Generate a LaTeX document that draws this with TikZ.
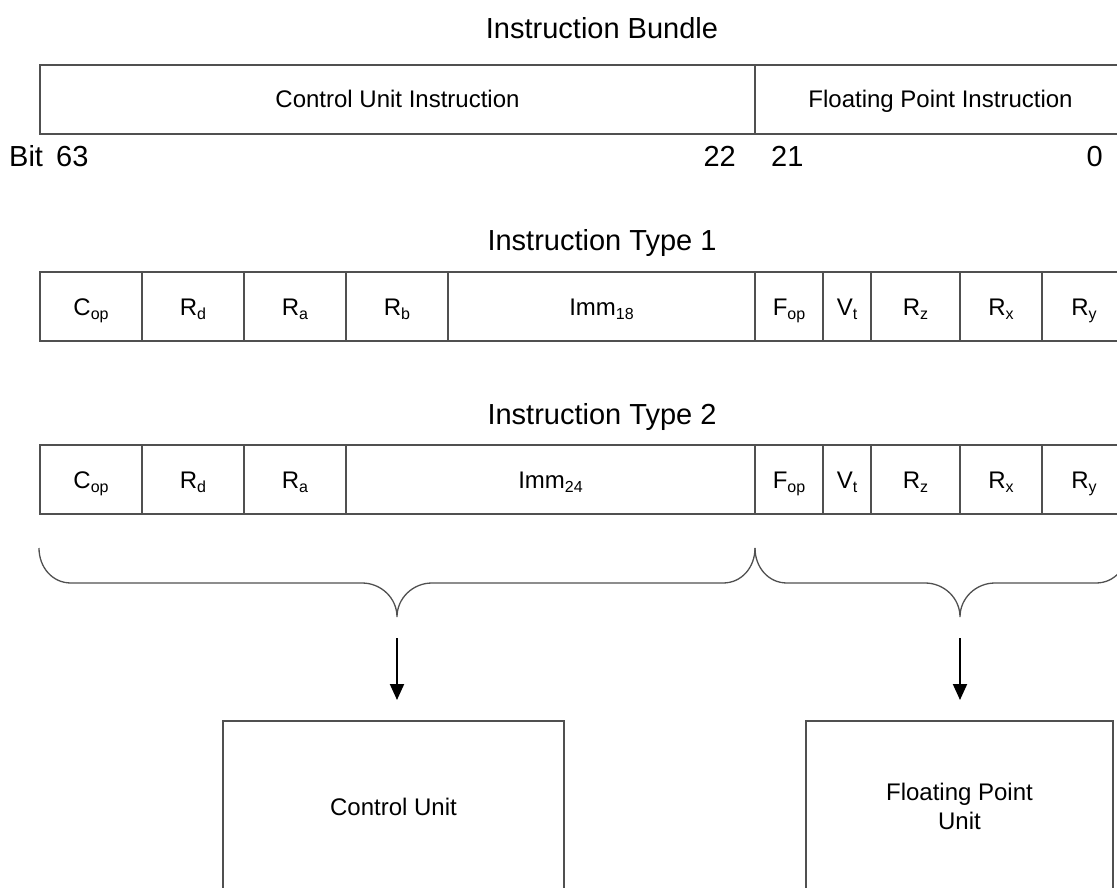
\documentclass[tikz,border=0pt]{standalone}
\usepackage{fontspec}
\setmainfont{Liberation Sans}
\usetikzlibrary{arrows.meta}
\definecolor{linegray}{RGB}{80,80,80}
% lowered, smaller index text for field names
\newcommand{\lowsub}[1]{\raisebox{-4pt}{\fontsize{16}{16}\selectfont #1}}

\begin{document}
\begin{tikzpicture}[x=1pt,y=-1pt,
  field/.style={draw=linegray, line width=1.3pt, rectangle, inner sep=0pt, outer sep=0pt,
    minimum height=69pt, text height=17pt, text depth=0pt,
    font=\fontsize{24}{28}\selectfont},
  heading/.style={anchor=base, inner sep=0pt, font=\fontsize{29}{34}\selectfont},
  bitno/.style={inner sep=0pt, font=\fontsize{29}{34}\selectfont},
  unitbox/.style={draw=linegray, line width=1.3pt, rectangle, inner sep=0pt, outer sep=0pt,
    minimum height=171pt, align=center, font=\fontsize{24}{29}\selectfont},
  brace/.style={draw=linegray, line width=1.3pt},
  feed/.style={draw=black, line width=2pt, -{Triangle[length=16pt,width=14pt]}}]
\useasboundingbox (0,0) rectangle (1117,888);

% ---- instruction bundle ----
\node[heading] (bundletitle) at (602,39) {Instruction Bundle};
\node[field, minimum width=715pt] (cuinstr) at (397.5,99.5) {Control Unit Instruction};
\node[field, minimum width=371pt] (fpinstr) at (940.5,99.5) {Floating Point Instruction};

\node[bitno, anchor=base west] (bitword) at (9,167) {Bit};
\node[bitno, anchor=base west] (bit63) at (56,167) {63};
\node[bitno, anchor=base east] (bit22) at (736,167) {22};
\node[bitno, anchor=base west] (bit21) at (771,167) {21};
\node[bitno, anchor=base east] (bit0) at (1103,167) {0};

% ---- instruction type 1 ----
\node[heading] (typeonetitle) at (602,250) {Instruction Type 1};
\foreach \nm/\a/\b/\t in {
  t1cop/40/142/C\lowsub{op},
  t1rd/142/244/R\lowsub{d},
  t1ra/244/346/R\lowsub{a},
  t1rb/346/448/R\lowsub{b},
  t1imm/448/755/Imm\lowsub{18},
  t1fop/755/823/F\lowsub{op},
  t1vt/823/871/V\lowsub{t},
  t1rz/871/960/R\lowsub{z},
  t1rx/960/1042/R\lowsub{x},
  t1ry/1042/1126/R\lowsub{y}}
  \node[field, minimum width={(\b-\a)*1pt}] (\nm) at ({(\a+\b)/2},306.5) {\t};

% ---- instruction type 2 ----
\node[heading] (typetwotitle) at (602,424) {Instruction Type 2};
\foreach \nm/\a/\b/\t in {
  t2cop/40/142/C\lowsub{op},
  t2rd/142/244/R\lowsub{d},
  t2ra/244/346/R\lowsub{a},
  t2imm/346/755/Imm\lowsub{24},
  t2fop/755/823/F\lowsub{op},
  t2vt/823/871/V\lowsub{t},
  t2rz/871/960/R\lowsub{z},
  t2rx/960/1042/R\lowsub{x},
  t2ry/1042/1126/R\lowsub{y}}
  \node[field, minimum width={(\b-\a)*1pt}] (\nm) at ({(\a+\b)/2},479.5) {\t};

% ---- braces grouping the two halves ----
\draw[brace] (39,548) .. controls (39,567) and (52,583) .. (71,583) -- (362,583)
  .. controls (381,583) and (397,598) .. (397,617)
  .. controls (397,598) and (413,583) .. (432,583) -- (723,583)
  .. controls (742,583) and (755,567) .. (755,548);
\draw[brace] (755,548) .. controls (755,567) and (768,583) .. (787,583) -- (925,583)
  .. controls (944,583) and (960,598) .. (960,617)
  .. controls (960,598) and (976,583) .. (995,583) -- (1096,583)
  .. controls (1115,583) and (1128,567) .. (1128,548);

% ---- execution units ----
\node[unitbox, minimum width=341pt] (cu) at (393.5,806.5) {Control Unit};
\node[unitbox, minimum width=307pt] (fpu) at (959.5,806.5) {Floating Point\\Unit};

\coordinate (cufrom) at (397,638);
\coordinate (cuto) at (397,700);
\coordinate (fpufrom) at (960,638);
\coordinate (fputo) at (960,700);
\draw[feed] (cufrom) -- (cuto);
\draw[feed] (fpufrom) -- (fputo);
\end{tikzpicture}
\end{document}
